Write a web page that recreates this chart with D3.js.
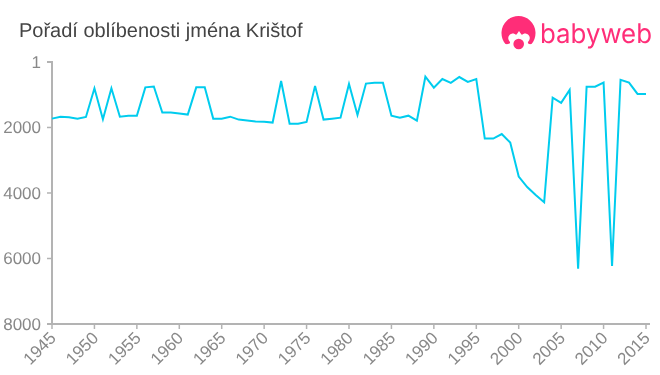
<!DOCTYPE html>
<html><head><meta charset="utf-8">
<script src="https://cdn.jsdelivr.net/npm/d3@7"></script>
<style>html,body{margin:0;padding:0;background:#fff}svg{display:block;will-change:transform;text-rendering:geometricPrecision}</style>
</head><body><svg id="c" width="660" height="375"></svg>
<script>
const years = d3.range(1945, 2016);
const ranks = [1730,1670,1690,1730,1680,805,1750,805,1670,1640,1640,775,750,1545,1545,1575,1605,775,775,1730,1730,1670,1760,1790,1820,1825,1850,580,1885,1885,1830,730,1760,1730,1700,670,1620,660,635,635,1640,1700,1640,1790,450,785,520,640,460,610,520,2340,2340,2200,2460,3500,3820,4060,4285,1090,1250,855,6310,755,755,630,6230,545,630,975,975];
const yTicks = [1,2000,4000,6000,8000];
const xTicks = d3.range(1945, 2016, 5);
const titleText = "Pořadí oblíbenosti jména Krištof";
const brandText = "babyweb";

const svg = d3.select("#c");
const x = d3.scaleLinear().domain([1945,2015]).range([52,646]);
const y = d3.scaleLinear().domain([1,8000]).range([62,324]);
const font = "'Liberation Sans', Arial, sans-serif";

svg.append("text").attr("x",19).attr("y",37).attr("font-family",font).attr("font-size",20).attr("fill","#444").text(titleText);

const ya = svg.append("g").attr("transform","translate(52,0)").call(d3.axisLeft(y).offset(0).tickValues(yTicks).tickFormat(d3.format("d")).tickSizeOuter(0).tickSize(5).tickPadding(6));
const xa = svg.append("g").attr("transform","translate(0,324)").call(d3.axisBottom(x).offset(0).tickValues(xTicks).tickFormat(d3.format("d")).tickSizeOuter(0).tickSize(5));
xa.select("path.domain").attr("d",`M${x(1945)},0H${x(2015.47)}`);
for (const a of [ya,xa]) {
  a.selectAll("path.domain").attr("stroke","#b3b3b3").attr("stroke-width",2);
  a.selectAll("line").attr("stroke","#b3b3b3").attr("stroke-width",1.5);
  a.selectAll("text").attr("fill","#888").attr("font-family",font).attr("font-size",17);
}
ya.selectAll("text").attr("dy","0.34em");
xa.selectAll("text").attr("text-anchor","end").attr("dy",null).attr("y",0).attr("transform","translate(5,15) rotate(-45)");

svg.append("path").datum(ranks).attr("fill","none").attr("stroke","#00ccee").attr("stroke-width",2).attr("stroke-linejoin","miter")
  .attr("d",d3.line().x((d,i)=>x(years[i])).y(d=>y(d)));

const logo = svg.append("g").attr("fill","#ff2d78");
logo.append("path").attr("d","M505.5 44 A17 17 0 1 1 531.5 44 C529 44.5 527.5 43.5 528 42 C530 40 530.5 37 528.5 35 C526.5 33 523.5 33 522 35 C521 34 520 32.5 519 31 C518 32.5 517 34 516 35 C514.5 33 511.5 33 509.5 35 C507.5 37 508 40 510 42 C510.5 43.5 508 44.5 505.5 44 Z");
logo.append("circle").attr("cx",518.7).attr("cy",44).attr("r",5.3);
logo.append("text").attr("x",540).attr("y",43).attr("font-family","Inter, sans-serif").attr("font-size",27).attr("font-weight",400).attr("textLength",112).attr("lengthAdjust","spacingAndGlyphs").text(brandText);
</script></body></html>
